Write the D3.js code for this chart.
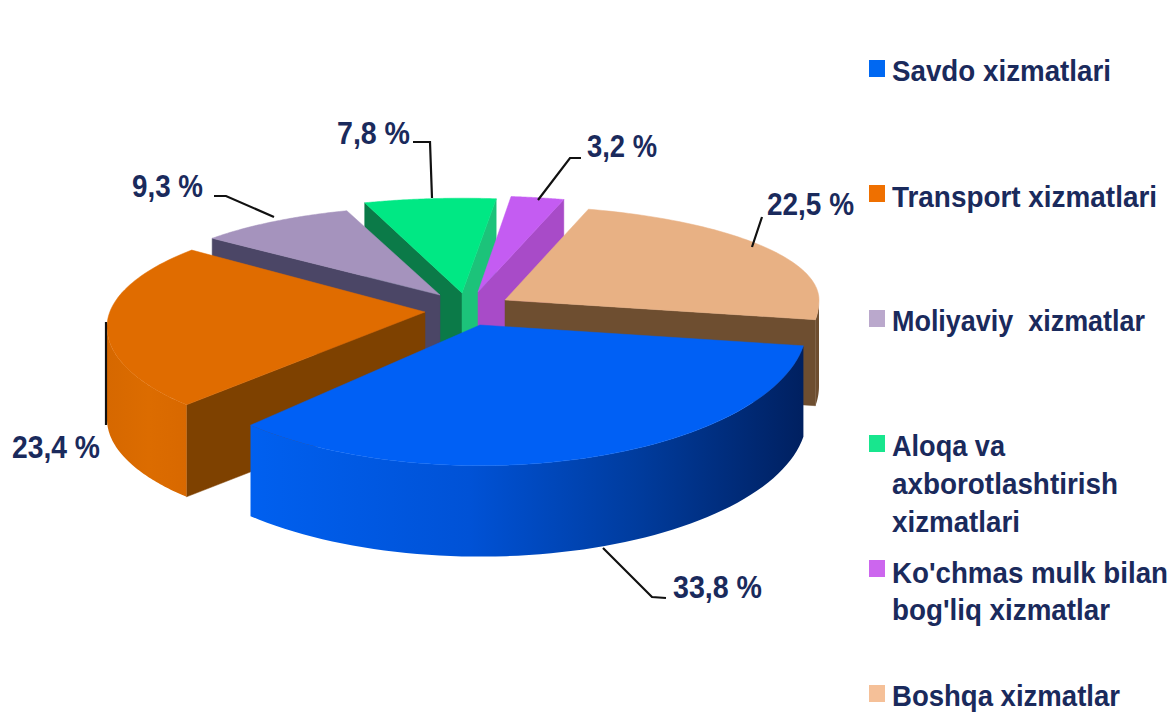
<!DOCTYPE html>
<html><head><meta charset="utf-8">
<script src="https://cdn.jsdelivr.net/npm/d3@7"></script>
<style>html,body{margin:0;background:#fff}svg{display:block}text{font-family:"Liberation Sans",Arial,sans-serif;font-weight:bold;fill:#1a2a5c}</style>
</head><body>
<svg id="c" width="1173" height="713"></svg>
<script>
const categories = ["Savdo xizmatlari","Transport xizmatlari","Moliyaviy xizmatlar","Aloqa va axborotlashtirish xizmatlari","Ko'chmas mulk bilan bog'liq xizmatlar","Boshqa xizmatlar"];
const values = [33.8,23.4,9.3,7.8,3.2,22.5];
const valueLabels = ["33,8 %","23,4 %","9,3 %","7,8 %","3,2 %","22,5 %"];
const topColors = ["#0060f5","#e06c00","#a593bd","#00e884","#c45cf2","#e8b184"];
const legendColors = ["#0068f2","#ef7000","#baa8cc","#18e68e","#cc66ee","#f5c098"];
const legendLines = [["Savdo xizmatlari"],["Transport xizmatlari"],["Moliyaviy  xizmatlar"],["Aloqa va","axborotlashtirish","xizmatlari"],["Ko'chmas mulk bilan","bog'liq xizmatlar"],["Boshqa xizmatlar"]];

// drawing layout
const deg = Math.PI/180;
const pie = d3.pie().sort(null).startAngle(97*deg).endAngle(457*deg);
const arcs = pie(values);
const angleShift = [3.7,9.9,6,3.7,0.5,0.5];
const angleStretch = [1.036,1.0,0.955,0.86,0.835,1.027];
const apex = [[480,325],[425,312],[440,295],[462,293],[478,292],[505,300]];
const radius = [327,318,296,316,320,314];
const depth = [91,92,90,90,90,86];
const wallStart = ["#003","#7e4100","#4b4666","#0b7a48","#a84bc8","#6e4e30"];
const wallEnd = ["#003","#7e4100","#4b4666","#1cc37a","#a84bc8","#6e4e30"];
const drawOrder = [3,4,5,2,1,0];
const kBack = [0.30,0.356,0.30,0.30,0.30,0.30];
const kFront = [0.43,0.37,0.42,0.42,0.42,0.42];
const ellipseDrop = [0,15,0,0,0,0];

const svg = d3.select("#c");
const defs = svg.append("defs");
const stops = (id,x1,x2,list)=>{
  const g = defs.append("linearGradient").attr("id",id).attr("gradientUnits","userSpaceOnUse").attr("x1",x1).attr("x2",x2).attr("y1",0).attr("y2",0);
  list.forEach(([o,c])=>g.append("stop").attr("offset",o).attr("stop-color",c));
};
stops("rim0",247,803,[[0,"#0060f0"],[0.4,"#0052d6"],[0.7,"#003c9e"],[1,"#002060"]]);
stops("rim1",107,190,[[0,"#d66800"],[0.5,"#dc6c00"],[1,"#d86800"]]);
const rimFill = i => i===0?"url(#rim0)":i===1?"url(#rim1)":wallEnd[i];

const line = d3.line();
drawOrder.forEach(i=>{
  const a = arcs[i];
  const span = (a.endAngle-a.startAngle)*angleStretch[i];
  const mid = (a.startAngle+a.endAngle)/2 + angleShift[i]*deg;
  const a0 = mid-span/2, a1 = mid+span/2;
  const [cx,cy] = apex[i], r = radius[i], d = depth[i];
  const P = t=>{ const c=Math.cos(t), s=Math.sin(t); return [cx+r*s, cy + ellipseDrop[i] - r*c*(c>0?kBack[i]:kFront[i])]; };
  const down = p=>[p[0],p[1]+d];
  const samples = (s,e)=>d3.range(0,65).map(j=>P(s+(e-s)*j/64));
  const g = svg.append("g");
  // cut faces: visible when the outward normal points toward the viewer
  [[a0,a0-Math.PI/2,wallStart[i]],[a1,a1+Math.PI/2,wallEnd[i]]].forEach(([t,n,col])=>{
    if(Math.cos(n) < -0.05){
      const p=P(t);
      g.append("path").attr("d",line([[cx,cy],p,down(p),[cx,cy+d]])+"Z").attr("fill",col).attr("stroke",col).attr("stroke-width",0.5);
    }
  });
  // outer rim: only the front half of the circle
  for(let k=0;k<2;k++){
    const lo = Math.PI*(0.5+2*k), hi = Math.PI*(1.5+2*k);
    const s = Math.max(a0,lo), e = Math.min(a1,hi);
    if(e>s){
      const top = samples(s,e);
      g.append("path").attr("d",line(top.concat(top.slice().reverse().map(down)))+"Z").attr("fill",rimFill(i));
    }
  }
  // top face
  g.append("path").attr("d",line([[cx,cy]].concat(samples(a0,a1)))+"Z").attr("fill",topColors[i]).attr("stroke",topColors[i]).attr("stroke-width",0.5);
});

// leader lines
const leaders = [[[603,548],[652,597],[666,598]],[[106,322],[106,425]],[[214,196],[226,196],[274,217]],[[413,142],[430,142],[432,198]],[[581,158],[570,158],[538,200]],[[762,217],[752,247]]];
leaders.forEach(l=>svg.append("path").attr("d",line(l)).attr("fill","none").attr("stroke","#111").attr("stroke-width",2.2));

// value labels: tall, slightly condensed type as in the picture
const labelPos = [[673,598],[12,458],[132,197],[337,144],[587,157],[767,215]];
const labelWidth = [89,88,71,73,70,87];
valueLabels.forEach((t,i)=>svg.append("text").attr("x",labelPos[i][0]).attr("y",labelPos[i][1]).attr("font-size",32)
  .attr("textLength",labelWidth[i]).attr("lengthAdjust","spacingAndGlyphs").text(t));

// legend
const legendSwatchY = [60,185,310,435,560,685];
const legendBase = [[81],[207],[331],[456,494,532],[583,620],[706]];
const legendWidth = [[219],[265],[253],[113,226,128],[276,218],[228]];
categories.forEach((c,i)=>{
  svg.append("rect").attr("x",869).attr("y",legendSwatchY[i]).attr("width",16).attr("height",17).attr("fill",legendColors[i]);
  legendLines[i].forEach((t,j)=>svg.append("text").attr("transform",`translate(892,${legendBase[i][j]}) scale(1,1.07)`).attr("font-size",28)
    .attr("textLength",legendWidth[i][j]).attr("lengthAdjust","spacingAndGlyphs").style("white-space","pre").text(t));
});
</script>
</body></html>
